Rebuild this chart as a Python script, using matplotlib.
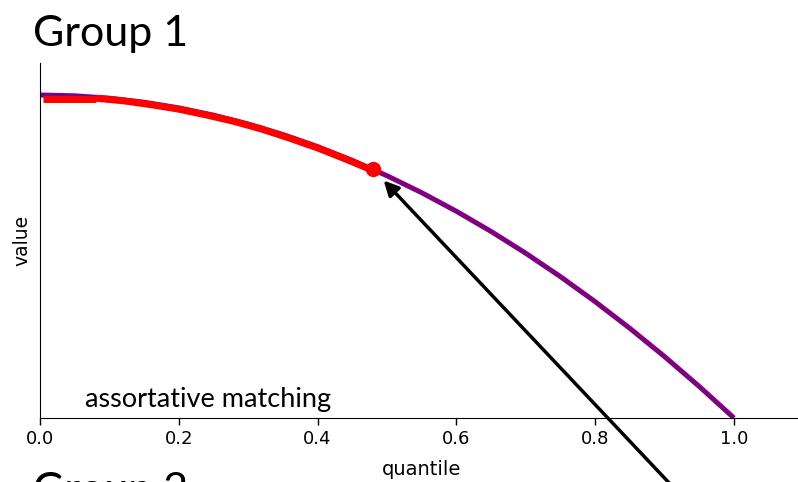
import matplotlib
matplotlib.use("Agg")
import matplotlib.pyplot as plt

# Group 1 value curve by quantile
quantile = [0.00, 0.05, 0.10, 0.15, 0.20, 0.25, 0.30, 0.35, 0.40, 0.45, 0.50,
            0.55, 0.60, 0.65, 0.70, 0.75, 0.80, 0.85, 0.90, 0.95, 1.00]
value = [1.000, 0.9975, 0.990, 0.9775, 0.960, 0.9375, 0.910, 0.8775, 0.840, 0.7975, 0.750,
         0.6975, 0.640, 0.5775, 0.510, 0.4375, 0.360, 0.2775, 0.190, 0.0975, 0.000]

# matched part of the distribution (two pieces)
matched_head_x = [0.005, 0.08]
matched_head_y = [0.987, 0.987]
matched_x = [0.08, 0.12, 0.16, 0.20, 0.24, 0.28, 0.32, 0.36, 0.40, 0.44, 0.48]
matched_y = [0.990, 0.982, 0.970, 0.956, 0.938, 0.918, 0.894, 0.866, 0.836, 0.802, 0.766]

# marginal matched agent
point_x = 0.48
point_y = 0.7696

xticks = [0.0, 0.2, 0.4, 0.6, 0.8, 1.0]

fig = plt.figure(figsize=(7.98, 4.82), dpi=100)
ax = fig.add_axes([40 / 798, 64 / 482, 1.1 * 694 / 798, 1.1 * 323 / 482])

ax.plot(quantile, value, color="#800080", lw=3.6, solid_capstyle="butt", zorder=2)
ax.plot(matched_head_x, matched_head_y, color="red", lw=5, solid_capstyle="butt", zorder=3)
ax.plot(matched_x, matched_y, color="red", lw=5, solid_capstyle="butt", zorder=3)
ax.plot([point_x], [point_y], "o", color="red", ms=10, zorder=4)

ax.annotate("", xy=(point_x, point_y), xytext=(0.994, -0.4),
            arrowprops=dict(arrowstyle="-|>", color="black", lw=2.5,
                            mutation_scale=22, shrinkA=0, shrinkB=11),
            annotation_clip=False, zorder=5)

ax.set_xlim(0, 1.1)
ax.set_ylim(0, 1.1)
ax.set_xticks(xticks)
ax.set_xticklabels([f"{t:.1f}" for t in xticks])
ax.set_yticks([])
ax.tick_params(axis="x", labelsize=13, length=5, width=1)
ax.spines["top"].set_visible(False)
ax.spines["right"].set_visible(False)
ax.set_xlabel("quantile", fontsize=14, labelpad=9)
ax.set_ylabel("value", fontsize=13.5, labelpad=6)

ax.text(0.065, 0.035, "assortative matching", fontsize=19.5, family="Lato",
        transform=ax.transData)

fig.text(33 / 798, 1 - 46 / 482, "Group 1", fontsize=31, family="Lato")
fig.text(33 / 798, 1 - 503 / 482, "Group 2", fontsize=31, family="Lato")

fig.savefig("out.png", dpi=100)
